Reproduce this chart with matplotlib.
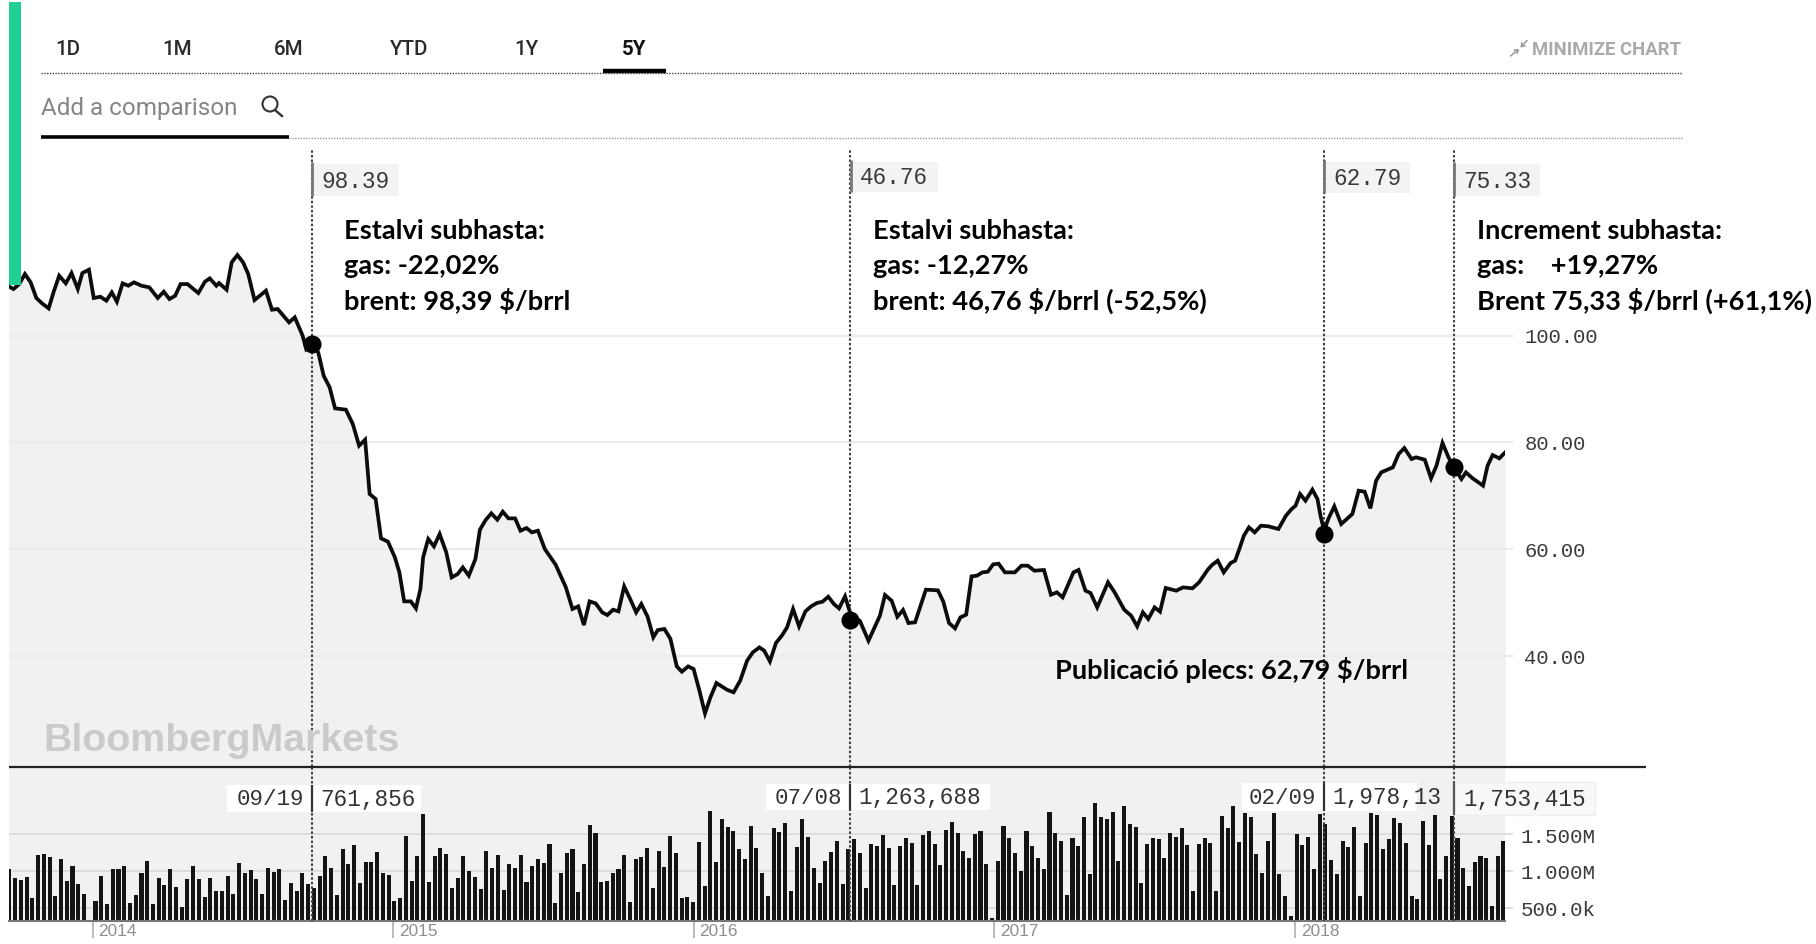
import matplotlib
matplotlib.use("Agg")
import matplotlib.pyplot as plt
from matplotlib.patches import Circle, Rectangle
from matplotlib.transforms import ScaledTranslation
import numpy as np

# brent price (decimal year, $/brrl)
price_years = [
    2013.717, 2013.737, 2013.756, 2013.775, 2013.794, 2013.813, 2013.832, 2013.854, 2013.870, 2013.889,
    2013.911, 2013.930, 2013.951, 2013.966, 2013.988, 2014.004, 2014.026, 2014.046, 2014.064, 2014.081,
    2014.100, 2014.119, 2014.138, 2014.163, 2014.189, 2014.217, 2014.237, 2014.256, 2014.275, 2014.293,
    2014.316, 2014.352, 2014.374, 2014.390, 2014.412, 2014.421, 2014.446, 2014.463, 2014.482, 2014.501,
    2014.518, 2014.539, 2014.577, 2014.597, 2014.616, 2014.654, 2014.673, 2014.699, 2014.711, 2014.730,
    2014.751, 2014.769, 2014.789, 2014.807, 2014.843, 2014.866, 2014.887, 2014.907, 2014.922, 2014.942,
    2014.960, 2014.983, 2015.006, 2015.021, 2015.037, 2015.059, 2015.076, 2015.091, 2015.100, 2015.117,
    2015.136, 2015.155, 2015.177, 2015.195, 2015.215, 2015.232, 2015.252, 2015.274, 2015.289, 2015.308,
    2015.327, 2015.347, 2015.365, 2015.384, 2015.406, 2015.424, 2015.444, 2015.462, 2015.482, 2015.505,
    2015.541, 2015.575, 2015.597, 2015.616, 2015.635, 2015.654, 2015.674, 2015.696, 2015.713, 2015.732,
    2015.750, 2015.769, 2015.788, 2015.809, 2015.826, 2015.847, 2015.866, 2015.881, 2015.903, 2015.923,
    2015.944, 2015.961, 2015.982, 2016.000, 2016.018, 2016.038, 2016.056, 2016.076, 2016.111, 2016.133,
    2016.155, 2016.178, 2016.197, 2016.219, 2016.235, 2016.254, 2016.274, 2016.295, 2016.311, 2016.331,
    2016.351, 2016.372, 2016.391, 2016.410, 2016.429, 2016.448, 2016.467, 2016.484, 2016.504, 2016.525,
    2016.553, 2016.582, 2016.620, 2016.637, 2016.659, 2016.678, 2016.697, 2016.715, 2016.737, 2016.773,
    2016.813, 2016.831, 2016.850, 2016.870, 2016.888, 2016.907, 2016.925, 2016.943, 2016.961, 2016.979,
    2016.997, 2017.015, 2017.036, 2017.069, 2017.091, 2017.112, 2017.134, 2017.166, 2017.189, 2017.209,
    2017.228, 2017.264, 2017.281, 2017.304, 2017.321, 2017.343, 2017.379, 2017.401, 2017.433, 2017.456,
    2017.476, 2017.495, 2017.513, 2017.534, 2017.552, 2017.571, 2017.606, 2017.629, 2017.660, 2017.682,
    2017.711, 2017.725, 2017.744, 2017.764, 2017.787, 2017.802, 2017.816, 2017.831, 2017.848, 2017.867,
    2017.888, 2017.913, 2017.946, 2017.971, 2017.990, 2018.003, 2018.018, 2018.036, 2018.059, 2018.076,
    2018.086, 2018.098, 2018.112, 2018.132, 2018.155, 2018.192, 2018.213, 2018.233, 2018.252, 2018.271,
    2018.288, 2018.327, 2018.346, 2018.365, 2018.389, 2018.404, 2018.433, 2018.454, 2018.472, 2018.492,
    2018.512, 2018.529, 2018.555, 2018.570, 2018.591, 2018.627, 2018.642, 2018.659, 2018.681, 2018.704,
]
price_values = [
    109.32, 108.70, 109.63, 111.51, 109.95, 107.02, 106.02, 105.08, 108.07, 111.19,
    109.76, 111.69, 108.70, 111.69, 112.32, 107.02, 107.26, 106.52, 108.07, 106.33,
    109.76, 109.32, 109.95, 109.32, 109.01, 107.02, 108.20, 106.83, 107.45, 109.63,
    109.63, 107.95, 110.07, 110.69, 109.32, 109.82, 108.57, 113.69, 115.06, 113.69,
    111.51, 106.64, 108.39, 104.83, 104.96, 102.46, 103.40, 99.97, 97.47, 98.39,
    96.85, 92.49, 90.30, 86.37, 86.13, 83.44, 79.39, 80.51, 70.35, 69.41,
    62.05, 61.43, 58.50, 55.69, 50.26, 50.26, 48.95, 52.57, 58.50, 61.93,
    60.55, 62.86, 59.43, 54.75, 55.38, 56.62, 55.07, 58.18, 63.67, 65.48,
    66.73, 65.54, 67.04, 65.79, 65.79, 63.48, 63.98, 63.17, 63.48, 60.05,
    57.12, 52.88, 48.83, 49.33, 45.83, 50.26, 49.89, 48.20, 47.70, 48.70,
    48.39, 53.07, 50.82, 48.20, 49.76, 47.39, 43.53, 44.90, 45.09, 43.22,
    38.10, 37.10, 38.10, 37.60, 33.86, 29.31, 32.30, 34.98, 33.73, 33.24,
    35.42, 39.16, 40.72, 41.65, 41.03, 39.03, 42.47, 43.96, 45.40, 48.83,
    45.58, 48.39, 49.33, 49.95, 50.20, 51.14, 49.76, 48.95, 51.20, 47.39,
    46.65, 42.90, 47.58, 51.45, 50.39, 47.39, 48.64, 46.21, 46.34, 52.45,
    52.32, 50.20, 46.21, 45.21, 47.27, 47.77, 54.94, 55.07, 55.69, 55.81,
    57.19, 57.31, 55.69, 55.69, 56.94, 56.94, 56.00, 56.13, 51.51, 51.95,
    51.01, 55.69, 56.13, 52.26, 51.82, 49.14, 53.82, 51.95, 48.70, 47.58,
    45.59, 48.21, 46.96, 49.14, 48.33, 52.76, 52.26, 52.88, 52.70, 53.82,
    56.19, 57.06, 57.87, 55.69, 57.44, 57.87, 60.06, 62.55, 64.11, 63.17,
    64.42, 64.30, 63.80, 66.29, 67.54, 68.16, 70.35, 69.10, 71.16, 69.41,
    66.29, 63.49, 65.67, 68.04, 64.73, 66.60, 70.97, 70.78, 67.66, 72.84,
    74.40, 75.34, 77.83, 78.95, 76.90, 77.21, 76.77, 73.28, 75.65, 79.89,
    77.21, 75.46, 73.15, 74.40, 73.34, 71.91, 75.65, 77.64, 77.02, 78.33,
]

# weekly volume in thousands
volume_k = [
    1022, 909, 873, 918, 632, 1213, 1227, 1195, 659, 1159, 863, 1068, 818, 691, 318, 591, 932, 545, 1032, 1022,
    1068, 568, 673, 977, 1136, 554, 900, 804, 1022, 786, 509, 886, 1068, 895, 641, 904, 727, 727, 932, 682,
    1113, 977, 1013, 886, 682, 1036, 986, 1022, 600, 841, 727, 977, 818, 773, 932, 1204, 1045, 668, 1295, 1091,
    1350, 841, 1122, 1122, 1259, 977,
    950, 591, 632, 1477, 863, 1204, 1772, 850, 1204, 1309, 1227, 773, 909, 1204, 1000, 923, 759, 1273, 1036, 1213,
    736, 1100, 1036, 1213, 850, 1068, 1159, 1104, 1363, 568, 968, 1241, 1295, 718, 1091, 1622, 1522, 854, 863, 977,
    1032, 1213, 582, 1168, 1195, 1309, 763, 1273, 1054, 1477, 1241, 627, 650, 577, 1395, 795, 1813, 1127, 1704, 1591,
    1545, 1295, 1159, 1613, 1309,
    968, 659, 1577, 1532, 1650, 727, 1332, 1704, 1463, 1045, 841, 1136, 1263, 1404, 818, 1295, 1432, 1250, 773, 1363,
    1341, 1495, 1318, 804, 1341, 1450, 1386, 804, 1491, 1545, 1372, 1077, 1559, 1659, 1509, 1273, 1182, 1500, 1536, 1091,
    364, 1136, 1604, 1454, 1250, 1000, 1536, 1341, 1182, 1032, 1795, 1522, 1400, 673, 1454, 1341, 1727, 954, 1922, 1727,
    1704, 1795, 1136, 1877, 1636,
    1591, 841, 1363, 1454, 1432, 1173, 1513, 1463, 1577, 1350, 727, 1363, 1450, 1386, 727, 1741, 1577, 1886, 1395, 1782,
    1736, 1236, 977, 1409, 1782, 963, 659, 386, 1500, 1350, 1463, 1032, 1773, 1632, 1145, 954, 1409, 1327, 1600, 659,
    1386, 1782, 1759, 1295, 1432, 1718, 1650, 1377, 659, 613, 1682, 1354, 1759, 895, 1204, 1750, 1454, 1045, 795, 1127,
    1204, 1182, 523, 1204, 1409,
]

event_years = [2014.73, 2016.52, 2018.098, 2018.529]
event_prices = [98.39, 46.76, 62.79, 75.33]
price_ticks = [40, 60, 80, 100]
price_tick_labels = ["40.00", "60.00", "80.00", "100.00"]
volume_ticks = [500, 1000, 1500]
volume_tick_labels = ["500.0k", "1.000M", "1.500M"]
year_ticks = [2014, 2015, 2016, 2017, 2018]
tabs = ["1D", "1M", "6M", "YTD", "1Y", "5Y"]

W, H = 1816, 945
MONO = "Liberation Mono"
GREY = "#f1f1f1"
GRID = "#ebebeb"
X0, X1 = 9, 1505


def axes_px(fig, left, top, right, bottom):
    return fig.add_axes([left / W, 1 - bottom / H, (right - left) / W, (bottom - top) / H])


def caixa(ax, x0, y0, x1, y1, color):
    ax.add_patch(Rectangle((x0, y0), x1 - x0, y1 - y0, fc=color, ec="none", zorder=3))


fig = plt.figure(figsize=(W / 100, H / 100), dpi=100)

# preu
ax = axes_px(fig, X0, 150, X1, 768)
ax.set_xlim(2013.722, 2018.70)
ax.set_ylim(19.27, 134.9)
ax.fill_between(price_years, price_values, 0, color=GREY, lw=0, zorder=1)
ax.hlines(price_ticks, 2013.722, 2018.728, color=GRID, lw=1.6, zorder=1.5, clip_on=False)
ax.plot(price_years, price_values, color="#0c0c0c", lw=2.7, zorder=4, solid_joinstyle="miter")
ax.plot(event_years, event_prices, "o", color="black", ms=13, mec="none", zorder=5)
for yr in event_years:
    ax.axvline(yr, color="#444444", lw=1.5, ls=(0, (1.2, 1.0)), zorder=3.5, clip_on=False)
ax.yaxis.tick_right()
ax.set_yticks(price_ticks, price_tick_labels, family=MONO, fontsize=14.8, color="#3a3a3a")
ax.tick_params(axis="y", length=0, pad=14)
ax.set_xticks([])
ax.patch.set_alpha(0)
up = ScaledTranslation(0, 1.2 / 100, fig.dpi_scale_trans)
for lab in ax.get_yticklabels():
    lab.set_transform(lab.get_transform() + up)
for s in ax.spines.values():
    s.set_visible(False)

# volum
av = axes_px(fig, X0, 768, X1, 922)
av.set_xlim(2013.722, 2018.70)
av.set_ylim(319, 2413)
av.set_facecolor(GREY)
week_years = np.linspace(2013.723, 2018.695, len(volume_k))
av.hlines(volume_ticks, 2013.722, 2018.728, color="#dcdcdc", lw=1.4, zorder=1, clip_on=False)
av.bar(week_years, volume_k, width=0.0135, bottom=0, color="#141414", zorder=2)
for yr in event_years:
    av.axvline(yr, color="#444444", lw=1.5, ls=(0, (1.2, 1.0)), zorder=3, clip_on=False)
av.yaxis.tick_right()
av.set_yticks(volume_ticks, volume_tick_labels, family=MONO, fontsize=15, color="#3a3a3a")
av.tick_params(axis="y", length=0, pad=11)
av.set_xticks(year_ticks, [str(y) for y in year_ticks], family="Liberation Sans", fontsize=12.4, color="#8f8f8f", ha="left")
av.tick_params(axis="x", length=12, width=1.3, color="#b5b5b5", pad=-10.5)
shift = ScaledTranslation(6 / 100, 0, fig.dpi_scale_trans)
for lab in av.get_xticklabels():
    lab.set_transform(lab.get_transform() + shift)
for s in av.spines.values():
    s.set_visible(False)
av.spines["bottom"].set_visible(True)
av.spines["bottom"].set_color("#777777")
av.spines["bottom"].set_linewidth(1.5)

# capa en pixels: capcalera, etiquetes i anotacions
top = fig.add_axes([0, 0, 1, 1])
top.set_xlim(0, W)
top.set_ylim(H, 0)
top.axis("off")
top.patch.set_alpha(0)

top.add_patch(Rectangle((9, 3), 12, 283, fc="#1fcf93", ec="none", zorder=2))

tab_x = [68, 177, 289, 409, 526, 634]
for nom, x in zip(tabs, tab_x):
    top.text(x, 49.5, nom, ha="center", va="center", family="Roboto", fontsize=14.8,
             color="#111111" if nom == "5Y" else "#2a2a2a", weight="bold" if nom == "5Y" else "medium")
top.plot([603, 666], [71.5, 71.5], color="black", lw=3.2, solid_capstyle="butt")
top.plot([41, 1682], [74, 74], color="#444444", lw=1, ls=(0, (1, 1)))
top.plot([289, 1682], [139, 139], color="#999999", lw=1, ls=(0, (1, 1)))
top.plot([41, 289], [138, 138], color="black", lw=2.6, solid_capstyle="butt")
top.text(41, 108, "Add a comparison", ha="left", va="center", family="Roboto", fontsize=17.5, color="#858585")
top.add_patch(Circle((270, 105), 7.5, fc="none", ec="#333333", lw=1.5))
top.plot([275, 282], [111, 117], color="#333333", lw=1.7)
top.text(1681, 50, "MINIMIZE CHART", ha="right", va="center", family="Roboto", fontsize=13.3, weight="bold", color="#aaaaaa")
arrow = dict(arrowstyle="->,head_length=0.22,head_width=0.16", color="#999999", lw=1.1, shrinkA=0, shrinkB=0)
top.annotate("", xy=(1519, 50), xytext=(1510.5, 57), arrowprops=arrow)
top.annotate("", xy=(1520.5, 48.5), xytext=(1527, 41.5), arrowprops=arrow)

top.text(43, 741, "BloombergMarkets", ha="left", va="center", family="Liberation Sans", weight="bold",
         fontsize=28.4, color="#cacaca")
top.plot([9, 1646], [768, 768], color="#222222", lw=1.6, solid_capstyle="butt")

# caixes de valor
for x0, x1, y0, y1, txt in [(312, 399, 165, 197, "98.39"), (851, 938, 163, 193, "46.76"),
                            (1324, 1410, 163, 194, "62.79"), (1454, 1540, 165, 197, "75.33")]:
    caixa(top, x0, y0, x1, y1, "#f3f3f3")
    top.plot([x0 - 0.5, x0 - 0.5], [y0 - 2, y1], color="#777777", lw=2, zorder=4, solid_capstyle="butt")
    top.text(x0 + 9, (y0 + y1) / 2, txt, ha="left", va="center", family=MONO, fontsize=16.4, color="#3a3a3a", zorder=5)

for x, x0, x1, y0, y1, data, vol in [(312, 227, 421, 786, 813, "09/19", "761,856"),
                                     (850, 766, 990, 785, 811, "07/08", "1,263,688"),
                                     (1324, 1242, 1417, 784, 812, "02/09", "1,978,13")]:
    caixa(top, x0, y0, x1, y1, "white")
    top.plot([x, x], [y0, y1], color="#333333", lw=1.6, zorder=4, solid_capstyle="butt")
    top.text(x - 8, (y0 + y1) / 2, data, ha="right", va="center", family=MONO, fontsize=16.2, color="#333333", zorder=5)
    top.text(x + 8, (y0 + y1) / 2, vol, ha="left", va="center", family=MONO, fontsize=16.4, color="#333333", zorder=5)
top.add_patch(Rectangle((1454, 783), 141, 33, fc="#f8f8f8", ec="#eeeeee", lw=1, zorder=3))
top.plot([1454, 1454], [783, 816], color="#555555", lw=1.6, zorder=4, solid_capstyle="butt")
top.text(1463, 799.5, "1,753,415", ha="left", va="center", family=MONO, fontsize=16.4, color="#333333", zorder=5)

# anotacions
notes = [
    (344, ["Estalvi subhasta:", "gas: -22,02%", "brent: 98,39 $/brrl"]),
    (873, ["Estalvi subhasta:", "gas: -12,27%", "brent: 46,76 $/brrl (-52,5%)"]),
    (1477, ["Increment subhasta:", "gas:    +19,27%", "Brent 75,33 $/brrl (+61,1%)"]),
]
for x, linies in notes:
    for y, t in zip([231, 266, 301], linies):
        top.text(x, y, t, ha="left", va="center", family="Lato", weight="bold", fontsize=19.6, color="black", zorder=6)
top.text(1055, 670, "Publicació plecs: 62,79 $/brrl", ha="left", va="center", family="Lato", weight="bold",
         fontsize=19.6, color="black", zorder=6)

fig.savefig("out.png", dpi=100)
